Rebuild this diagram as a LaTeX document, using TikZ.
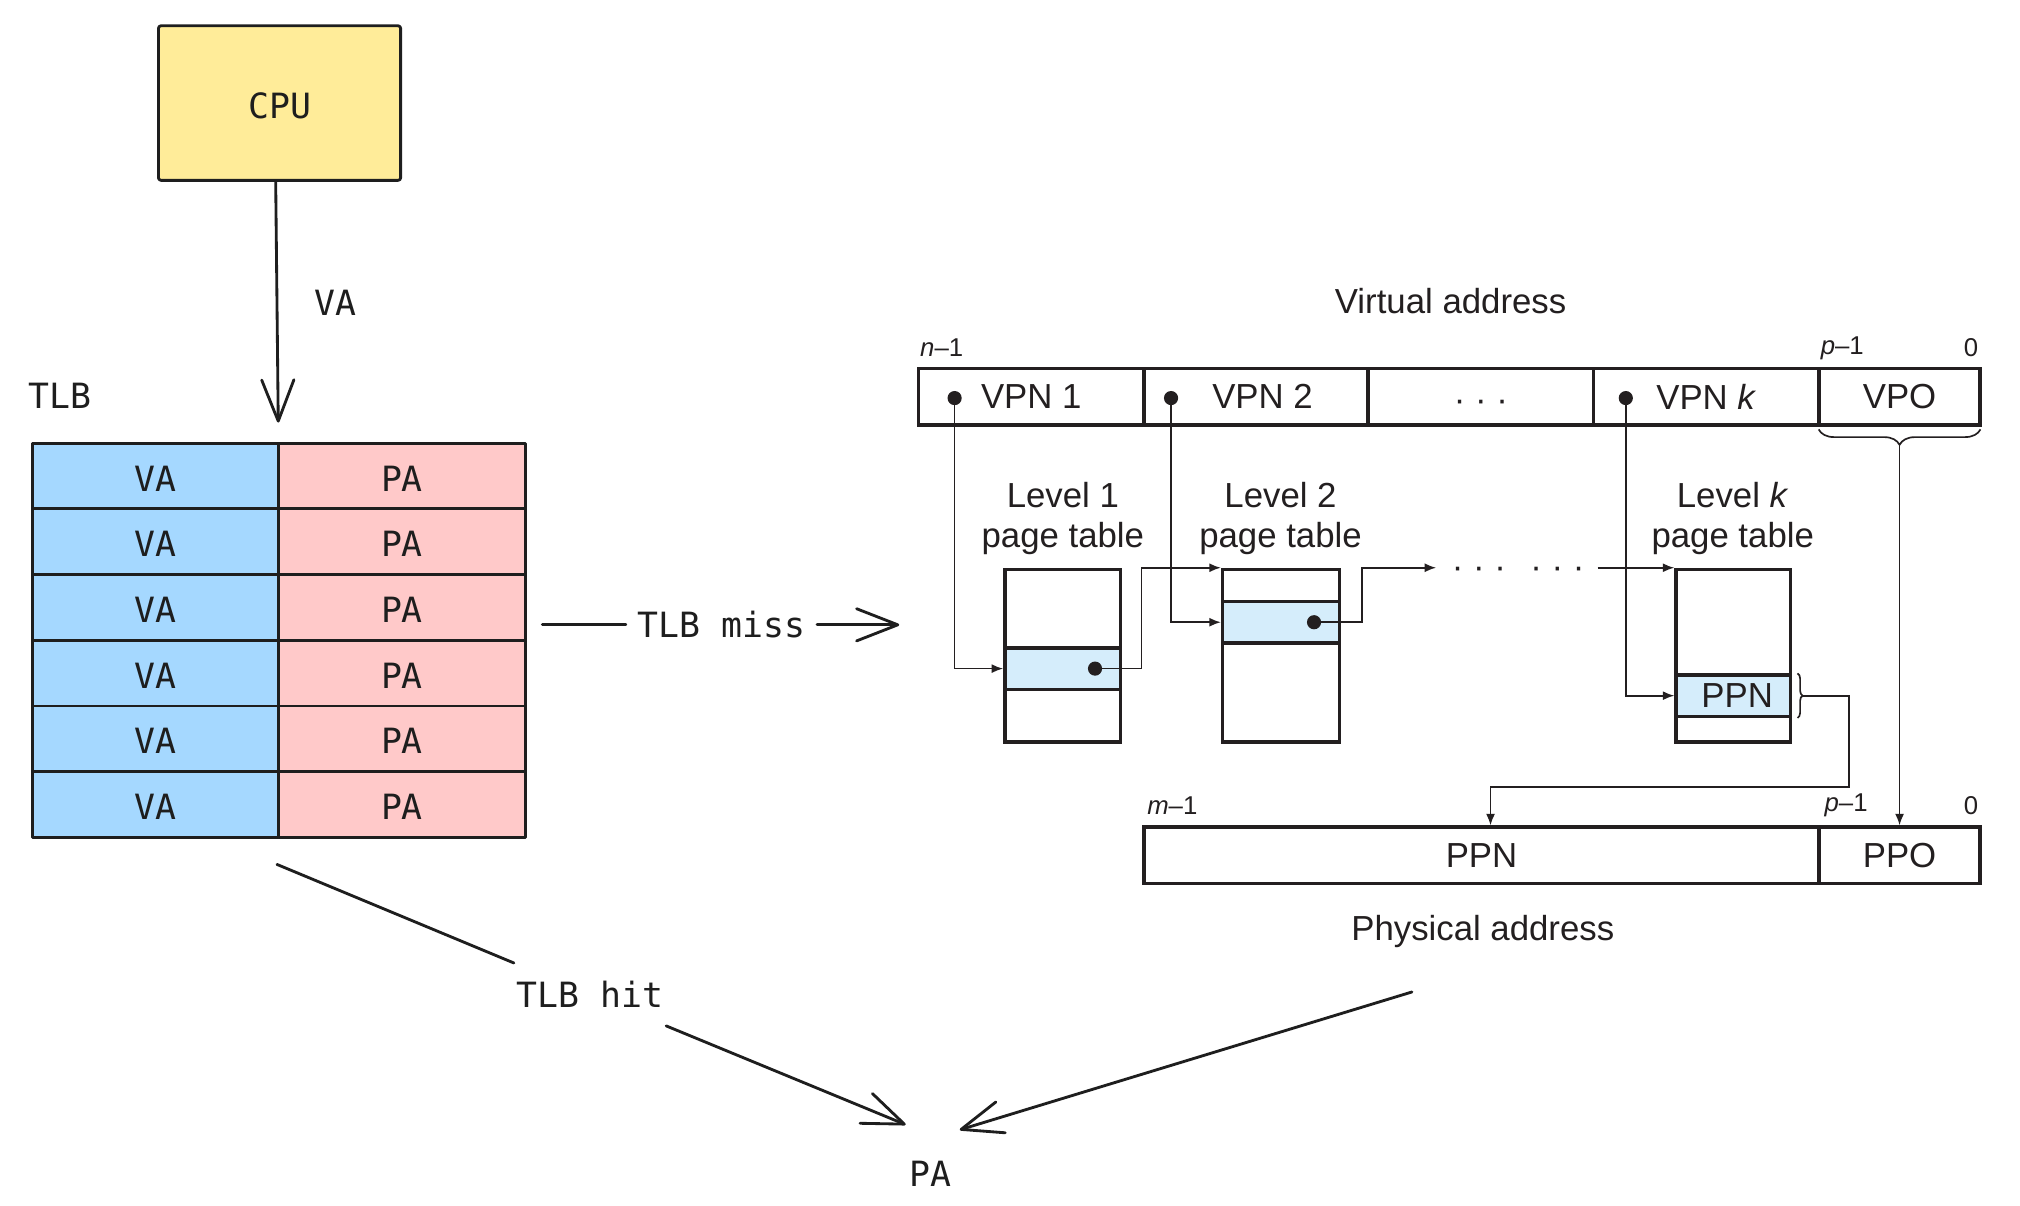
\documentclass[tikz,border=0pt]{standalone}
\usepackage{fontspec}
\setmainfont{Liberation Sans}
\newfontfamily\exmono{DejaVu Sans Mono}
\usetikzlibrary{arrows.meta,decorations.pathreplacing,calc}
\definecolor{exstroke}{HTML}{1E1E1E}
\definecolor{cpuyellow}{HTML}{FFEC99}
\definecolor{vablue}{HTML}{A5D8FF}
\definecolor{papink}{HTML}{FFC9C9}
\definecolor{ptblue}{HTML}{D5EDFB}
\definecolor{bookline}{HTML}{231F20}
\begin{document}
\begin{tikzpicture}[x=1pt,y=-1pt,
  exline/.style={draw=exstroke,line width=2.2pt,line cap=round,line join=round},
  exarrow/.style={exline,-{Straight Barb[length=32pt,width=25pt,round]}},
  extext/.style={font=\exmono\fontsize{27}{32}\selectfont,text=exstroke},
  lowtext/.style={text height=23.5pt,text depth=0pt},
  tcell/.style={exline,extext,lowtext,minimum width=191pt,minimum height=51pt,inner sep=0pt},
  booktext/.style={font=\fontsize{27}{32}\selectfont,text=bookline},
  booksmall/.style={font=\fontsize{20}{24}\selectfont,text=bookline,inner sep=0pt},
  bookbox/.style={draw=bookline,line width=2.6pt},
  bookconn/.style={draw=bookline,line width=1.3pt},
  bookarrow/.style={bookconn,-{Latex[length=9pt,width=7pt]}},
  vcell/.style={bookbox,booktext,minimum height=44pt,inner sep=0pt},
  bdot/.style={circle,fill=bookline,inner sep=0pt,minimum size=11pt},
]
\useasboundingbox (0,0) rectangle (1568,936);

% ---------- left: CPU and TLB ----------
\node[exline,fill=cpuyellow,extext,lowtext,minimum width=188pt,minimum height=120pt,rounded corners=2pt] (cpu) at (217,80) {CPU};
\coordinate (tlbin) at (216,328);
\draw[exarrow] ([xshift=-3pt]cpu.south) -- (tlbin);
\node[extext,anchor=west,inner sep=0pt] (valbl) at (244,235) {VA};
\node[extext,anchor=west,inner sep=0pt] (tlblbl) at (22,307) {TLB};

\foreach \i in {0,...,5} {
  \pgfmathsetmacro{\yy}{369.5+51*\i}
  \node[tcell,fill=vablue] (va\i) at (120.5,\yy) {VA};
  \node[tcell,fill=papink,minimum width=192pt] (pa\i) at (312,\yy) {PA};
}

% TLB miss
\coordinate (m1) at (421,485);
\node[extext,inner xsep=9pt,inner ysep=0pt] (miss) at (560,485) {TLB miss};
\coordinate (m2) at (698,485);
\draw[exline] (m1) -- (miss.west);
\draw[exarrow] (miss.east) -- (m2);

% TLB hit
\coordinate (h1) at (215,671);
\node[extext,minimum height=56pt,inner xsep=2pt] (hit) at (458,772) {TLB hit};
\coordinate (pa1) at (703,873);
\draw[exline] (h1) -- (hit);
\draw[exarrow] (hit) -- (pa1);

\node[extext] (pa) at (722,911) {PA};
\coordinate (pf) at (1096,770);
\coordinate (pa2) at (745,877);
\draw[exarrow] (pf) -- (pa2);

% ---------- right: page walk ----------
\node[booktext,anchor=base] (vatitle) at (1126,243) {Virtual address};
\node[booksmall] (nlbl) at (731,270) {\textit{n}–1};
\node[booksmall] (plbl) at (1430,270) {\textit{p}–1};
\node[booksmall] (zlbl) at (1530,270) {0};

\node[vcell,minimum width=175pt] (vpn1) at (800.5,308) {VPN 1};
\node[vcell,minimum width=174pt] (vpn2) at (975,308) {\hspace*{10pt}VPN 2};
\node[vcell,minimum width=175pt,text height=23pt,text depth=0pt] (vdots) at (1149.5,308) {· · ·};
\node[vcell,minimum width=175pt] (vpnk) at (1324.5,308) {VPN \textit{k}};
\node[vcell,minimum width=125pt] (vpo) at (1474.5,308) {VPO};

\node[bdot] (d1) at (741,309) {};
\node[bdot] (d2) at (909,309) {};
\node[bdot] (dk) at (1262,309) {};

% page tables
\node[bookbox,minimum width=90pt,minimum height=134pt] (pt1) at (825,509) {};
\node[bookbox,fill=ptblue,minimum width=90pt,minimum height=32pt] (r1) at (825,519) {};
\node[bdot] (e1) at (850,519) {};
\node[bookbox,minimum width=91pt,minimum height=134pt] (pt2) at (994.5,509) {};
\node[bookbox,fill=ptblue,minimum width=91pt,minimum height=32pt] (r2) at (994.5,483) {};
\node[bdot] (e2) at (1020,483) {};
\node[bookbox,minimum width=89pt,minimum height=134pt] (ptk) at (1345.5,509) {};
\node[bookbox,fill=ptblue,minimum width=89pt,minimum height=32pt,booktext,inner sep=0pt] (rk) at (1345.5,540) {\hspace*{6pt}PPN};

\node[booktext,anchor=base] (l1a) at (825,394) {Level 1};
\node[booktext,anchor=base] (l1b) at (825,425) {page table};
\node[booktext,anchor=base] (l2a) at (994,394) {Level 2};
\node[booktext,anchor=base] (l2b) at (994,425) {page table};
\node[booktext,anchor=base] (lka) at (1345,394) {Level \textit{k}};
\node[booktext,anchor=base] (lkb) at (1345,425) {page table};

\draw[bookarrow] (d1.center) |- (r1.west);
\draw[bookarrow] (d2.center) |- (r2.west);
\draw[bookarrow] (dk.center) |- (rk.west);
\draw[bookarrow] (e1.center) -- ++(36,0) |- (pt2.north west);
\node[booktext,inner sep=0pt] (gA) at (1148,445) {· · ·};
\node[booktext,inner sep=0pt] (gB) at (1209,445) {· · ·};
\draw[bookarrow] (e2.center) -- ++(37,0) |- ([xshift=-12pt]gA.west |- pt2.north);
\draw[bookarrow] ([xshift=10pt]gB.east |- ptk.north) -- (ptk.north west);

% physical address
\node[vcell,minimum width=524pt] (ppnbox) at (1150,664) {PPN};
\node[vcell,minimum width=125pt] (ppo) at (1474.5,664) {PPO};
\node[booksmall] (mlbl) at (910,625) {\textit{m}–1};
\node[booksmall] (plbl2) at (1433,625) {\textit{p}–1};
\node[booksmall] (zlbl2) at (1530,625) {0};
\node[booktext,anchor=base] (patitle) at (1151,730) {Physical address};

% braces and links to the physical address
\draw[bookconn,decorate,decoration={brace,amplitude=4pt}] ([xshift=4pt]rk.north east) -- ([xshift=4pt]rk.south east);
\coordinate (bk) at (1399,540);
\coordinate (ppnin) at ([xshift=7pt]ppnbox.north);
\draw[bookarrow] (bk) -| (1435,611) -| (ppnin);

\draw[bookconn,decorate,decoration={brace,amplitude=12pt}] ([shift={(-1,2)}]vpo.south east) -- ([shift={(1,2)}]vpo.south west);
\coordinate (vb) at (1474.5,344);
\draw[bookarrow] (vb) -- (vb |- ppo.north);
\end{tikzpicture}
\end{document}
